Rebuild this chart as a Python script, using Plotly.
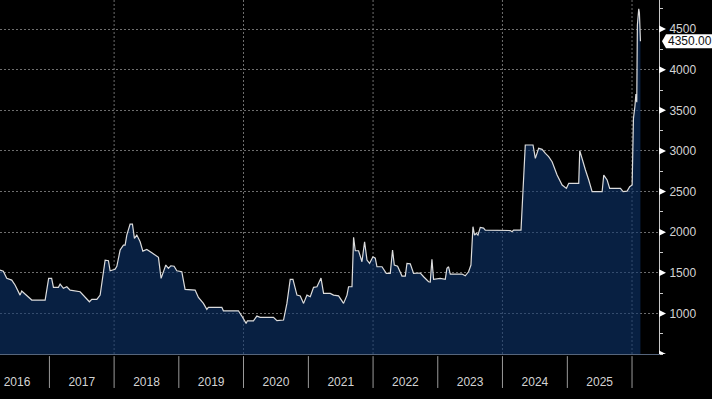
import numpy as np
import pandas as pd
import plotly.graph_objects as go

# ---- data (decimal years, price) ----
years_dec = [
    2016.238, 2016.289, 2016.342, 2016.419, 2016.470, 2016.547, 2016.573, 2016.651, 2016.728, 2016.934,
    2016.988, 2017.034, 2017.062, 2017.139, 2017.165, 2017.216, 2017.269, 2017.320, 2017.474, 2017.618,
    2017.655, 2017.733, 2017.784, 2017.861, 2017.912, 2017.938, 2018.015, 2018.042, 2018.093, 2018.144,
    2018.170, 2018.196, 2018.247, 2018.283, 2018.314, 2018.351, 2018.402, 2018.444, 2018.505, 2018.583,
    2018.660, 2018.685, 2018.726, 2018.799, 2018.839, 2018.876, 2018.927, 2018.969, 2019.046, 2019.097,
    2019.252, 2019.303, 2019.380, 2019.433, 2019.457, 2019.665, 2019.689, 2019.921, 2019.974, 2020.040,
    2020.060, 2020.153, 2020.206, 2020.257, 2020.462, 2020.515, 2020.617, 2020.669, 2020.720, 2020.762,
    2020.824, 2020.875, 2020.926, 2020.978, 2021.029, 2021.080, 2021.133, 2021.195, 2021.235, 2021.338,
    2021.389, 2021.467, 2021.544, 2021.597, 2021.621, 2021.674, 2021.699, 2021.725, 2021.776, 2021.828,
    2021.869, 2021.906, 2021.946, 2021.998, 2022.034, 2022.060, 2022.138, 2022.204, 2022.266, 2022.301,
    2022.328, 2022.379, 2022.447, 2022.498, 2022.524, 2022.575, 2022.626, 2022.730, 2022.781, 2022.858,
    2022.884, 2022.910, 2022.935, 2023.039, 2023.116, 2023.142, 2023.167, 2023.193, 2023.374, 2023.425,
    2023.476, 2023.513, 2023.544, 2023.569, 2023.595, 2023.621, 2023.657, 2023.708, 2023.734, 2024.121,
    2024.147, 2024.172, 2024.286, 2024.317, 2024.352, 2024.471, 2024.507, 2024.558, 2024.611, 2024.662,
    2024.712, 2024.765, 2024.842, 2024.920, 2024.986, 2025.022, 2025.176, 2025.192, 2025.229, 2025.280,
    2025.331, 2025.383, 2025.538, 2025.563, 2025.615, 2025.655, 2025.821, 2025.862, 2025.924, 2025.964,
    2026.002, 2026.022, 2026.045, 2026.060, 2026.073, 2026.083, 2026.104, 2026.114, 2026.130,
]
prices = [
    1533, 1520, 1431, 1410, 1349, 1225, 1275, 1225, 1164, 1164,
    1431, 1431, 1320, 1320, 1361, 1308, 1328, 1287, 1266, 1143,
    1172, 1172, 1225, 1656, 1648, 1525, 1542, 1580, 1780, 1841,
    1841, 1964, 2100, 2100, 1923, 1964, 1882, 1767, 1788, 1746,
    1697, 1690, 1431, 1595, 1554, 1586, 1580, 1525, 1513, 1296,
    1287, 1197, 1123, 1049, 1074, 1074, 1032, 1032, 967, 877,
    909, 909, 967, 951, 951, 910, 918, 1123, 1419, 1419,
    1225, 1215, 1123, 1225, 1205, 1320, 1328, 1435, 1246, 1246,
    1225, 1215, 1123, 1225, 1328, 1328, 1936, 1771, 1771, 1636,
    1882, 1656, 1616, 1697, 1680, 1574, 1574, 1492, 1492, 1780,
    1595, 1580, 1459, 1459, 1616, 1610, 1492, 1497, 1451, 1389,
    1385, 1665, 1419, 1430, 1419, 1554, 1574, 1484, 1484, 1463,
    1512, 1595, 2067, 1964, 1985, 1964, 2059, 2050, 2026, 2020,
    2005, 2026, 2026, 2559, 3073, 3073, 2909, 3032, 3020, 2970,
    2929, 2867, 2703, 2580, 2539, 2601, 2601, 3003, 2888, 2765,
    2642, 2498, 2498, 2703, 2642, 2539, 2539, 2498, 2505, 2560,
    2580, 3400, 3550, 3700, 3600, 4550, 4750, 4700, 4350,
]
year_boundaries = list(range(2017, 2027))
grid_years = [2018, 2020, 2022, 2024, 2026]
y_label_ticks = [1000, 1500, 2000, 2500, 3000, 3500, 4000, 4500]
y_marker_ticks = [500] + y_label_ticks
x_range_dec = [2016.238, 2026.417]
y_range = [500, 4858]


def dec_to_date(d):
    y = int(np.floor(d))
    start = pd.Timestamp(year=y, month=1, day=1)
    end = pd.Timestamp(year=y + 1, month=1, day=1)
    return start + (end - start) * (d - y)


dates = [dec_to_date(d) for d in years_dec]

FONT = "Liberation Sans"
LABEL_COLOR = "#d4d4d4"
GRID_COLOR = "#6e6e6e"

fig = go.Figure()
fig.add_trace(go.Scatter(
    x=dates, y=prices, mode="lines",
    line=dict(color="#dcdcdc", width=1.2),
    fill="tozeroy", fillcolor="rgba(13,53,110,0.6)",
    hoverinfo="skip", showlegend=False,
))

shapes = []
# dotted vertical grid every two years
for yr in grid_years:
    d = pd.Timestamp(year=yr, month=1, day=1)
    shapes.append(dict(type="line", xref="x", yref="paper", x0=d, x1=d, y0=0, y1=1,
                       layer="below", line=dict(color=GRID_COLOR, width=1, dash="2px,2px")))
# year separators below the plot
for yr in year_boundaries:
    d = pd.Timestamp(year=yr, month=1, day=1)
    shapes.append(dict(type="line", xref="x", yref="paper", x0=d, x1=d, y0=-0.006, y1=-0.096,
                       line=dict(color="#9a9a9a", width=1)))
# triangle tick markers on the price axis
for v in y_marker_ticks:
    shapes.append(dict(type="path", xref="paper", yref="y", xsizemode="pixel", ysizemode="pixel",
                       xanchor=1, yanchor=v, path="M0,-3.5 L7,0 L0,3.5 Z",
                       fillcolor="white", line=dict(width=0), layer="above"))
# last-value pointer box
shapes.append(dict(type="path", xref="paper", yref="y", xsizemode="pixel", ysizemode="pixel",
                   xanchor=1, yanchor=prices[-1],
                   path="M3,0 L7,-7 L60,-7 L60,7 L7,7 Z",
                   fillcolor="white", line=dict(width=0), layer="above"))

fig.update_layout(
    width=712, height=399,
    margin=dict(l=0, r=53, t=0, b=45),
    paper_bgcolor="black", plot_bgcolor="black",
    font=dict(family=FONT, size=12, color=LABEL_COLOR),
    shapes=shapes,
    xaxis=dict(
        type="date",
        range=[dec_to_date(x_range_dec[0]), dec_to_date(x_range_dec[1])],
        dtick="M12", tick0="2016-01-01", tickformat="%Y",
        ticklabelmode="period",
        ticks="outside", ticklen=17, tickcolor="rgba(0,0,0,0)",
        showgrid=False, zeroline=False,
        showline=True, linecolor="#56657c", linewidth=1,
        tickfont=dict(family=FONT, size=12, color=LABEL_COLOR),
    ),
    yaxis=dict(
        side="right", range=y_range,
        tickmode="array", tickvals=y_label_ticks,
        ticktext=[str(v) for v in y_label_ticks],
        ticks="outside", ticklen=7, tickcolor="rgba(0,0,0,0)",
        showgrid=True, gridcolor=GRID_COLOR, griddash="2px,2px", gridwidth=1,
        zeroline=False,
        showline=True, linecolor="#c8c8c8", linewidth=1,
        minor=dict(tickmode="linear", tick0=500, dtick=250, ticks="outside",
                   ticklen=3, tickcolor="#c8c8c8", showgrid=False),
        tickfont=dict(family=FONT, size=12, color=LABEL_COLOR),
    ),
    annotations=[dict(
        xref="paper", yref="y", x=1, y=prices[-1], xanchor="left", yanchor="middle",
        xshift=7, text=f"{prices[-1]:.2f}", showarrow=False,
        font=dict(family=FONT, size=12, color="#111111"),
    )],
)

fig.write_html(
    "out.html",
    config={"displayModeBar": False, "staticPlot": True},
    post_script="document.body.style.margin='0px';document.body.style.background='black';",
)
